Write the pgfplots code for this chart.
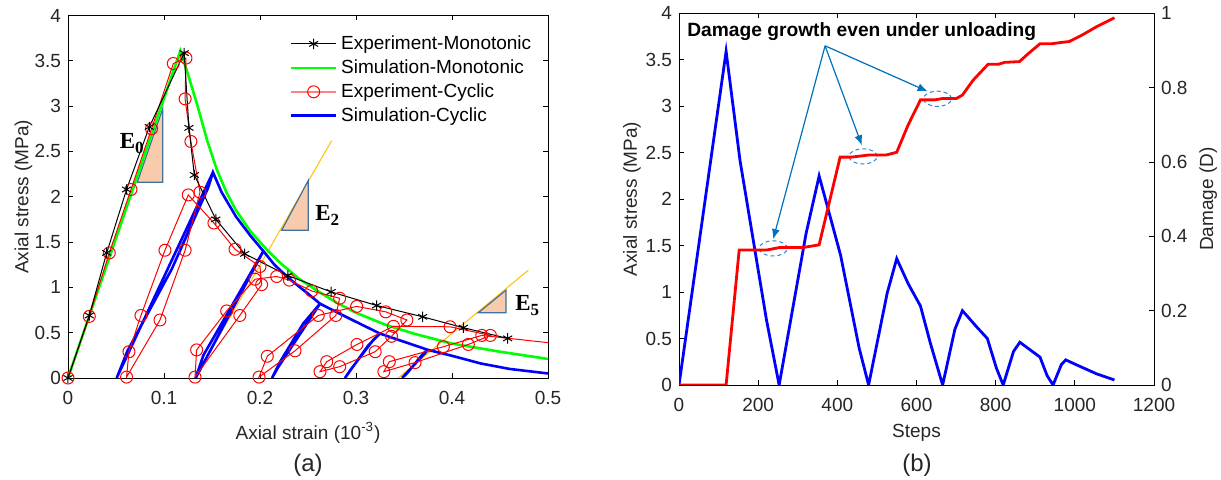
\documentclass[border=0pt]{standalone}
\usepackage{pgfplots}
\pgfplotsset{compat=1.18}
\usepackage{fontspec}
\setmainfont{Liberation Sans}
\newfontfamily\timesfont{Liberation Serif}
\usetikzlibrary{arrows.meta}
\definecolor{tri}{HTML}{F8CBAD}
\definecolor{triedge}{HTML}{41719C}
\definecolor{orng}{HTML}{FFC000}
\definecolor{arr}{HTML}{0072BD}
\definecolor{ell}{HTML}{2E86D0}
\definecolor{txt}{HTML}{262626}
\pgfplotsset{
  mystyle/.style={
    scale only axis,
    tick align=inside,
    major tick length=2.5pt,
    every tick/.style={black, line width=0.4pt},
    tick label style={font=\fontsize{9.5}{11}\selectfont, text=txt},
    label style={font=\fontsize{9.5}{11}\selectfont, text=txt},
    /pgf/number format/assume math mode=true,
    /pgf/number format/1000 sep={},
    axis line style={line width=0.4pt},
    xticklabel style={yshift=-3pt},
  }
}
\begin{document}
\begin{tikzpicture}
\useasboundingbox (0,0) rectangle (610.5pt,240pt);
% ================= (a) =================
\begin{axis}[mystyle,
  at={(34pt,51pt)}, anchor=south west,
  width=240pt, height=181.25pt,
  xmin=0, xmax=0.5, ymin=0, ymax=4,
  xtick={0,0.1,0.2,0.3,0.4,0.5}, xticklabels={0,0.1,0.2,0.3,0.4,0.5},
  ytick={0,0.5,1,1.5,2,2.5,3,3.5,4}, yticklabels={0,0.5,1,1.5,2,2.5,3,3.5,4},
  xtick pos=both, ytick pos=both,
  xlabel={Axial strain (10\textsuperscript{-3})},
  xlabel style={at={(axis description cs:0.5,-0.152)}, anchor=center},
  ylabel={Axial stress (MPa)},
  ylabel style={at={(axis description cs:-0.093,0.5)}, anchor=center},
  legend image code/.code={\draw[mark repeat=2,mark phase=2,#1] plot coordinates {(0cm,0cm) (0.39cm,0cm) (0.78cm,0cm)};},
  legend style={draw=none, fill=none, at={(axis description cs:0.462,0.957)}, anchor=north west,
    font=\fontsize{9.5}{11}\selectfont, row sep=-0.4pt, inner sep=0pt},
  legend cell align=left,
]
\addlegendimage{black, line width=0.5pt, mark=asterisk, mark size=2.6pt}
\addlegendentry{Experiment-Monotonic}
\addlegendimage{green, line width=1.3pt}
\addlegendentry{Simulation-Monotonic}
\addlegendimage{red!50, line width=0.8pt, mark=o, mark size=3pt, mark options={red, line width=0.5pt}}
\addlegendentry{Experiment-Cyclic}
\addlegendimage{blue, line width=1.3pt}
\addlegendentry{Simulation-Cyclic}

% slope guide lines and triangles
\draw[orng, line width=0.5pt] (axis cs:0.1323,0) -- (axis cs:0.2747,2.62);
\draw[orng, line width=0.5pt] (axis cs:0.344,0) -- (axis cs:0.4795,1.19);
\filldraw[fill=tri, draw=triedge, line width=0.6pt] (axis cs:0.0722,2.16) -- (axis cs:0.0986,2.16) -- (axis cs:0.0986,2.97) -- cycle;
\filldraw[fill=tri, draw=triedge, line width=0.6pt] (axis cs:0.2226,1.63) -- (axis cs:0.2503,1.63) -- (axis cs:0.2503,2.18) -- cycle;
\filldraw[fill=tri, draw=triedge, line width=0.6pt] (axis cs:0.4274,0.72) -- (axis cs:0.4563,0.72) -- (axis cs:0.4563,0.97) -- cycle;
\node[anchor=base west, inner sep=0pt] at (axis cs:0.0535,2.53) {\fontsize{11.5}{12}\timesfont\bfseries E\raisebox{-0.5ex}{\fontsize{8.5}{9}\selectfont 0}};
\node[anchor=base west, inner sep=0pt] at (axis cs:0.2573,1.74) {\fontsize{11.5}{12}\timesfont\bfseries E\raisebox{-0.5ex}{\fontsize{8.5}{9}\selectfont 2}};
\node[anchor=base west, inner sep=0pt] at (axis cs:0.4656,0.749) {\fontsize{11.5}{12}\timesfont\bfseries E\raisebox{-0.5ex}{\fontsize{8.5}{9}\selectfont 5}};

% Simulation-Monotonic
\addplot[green, line width=1.3pt, forget plot] coordinates {
(0,0) (0.117,3.61) (0.125,3.35) (0.135,3.0) (0.145,2.62) (0.155,2.30) (0.165,2.05)
(0.175,1.85) (0.19,1.62) (0.205,1.44) (0.22,1.28) (0.24,1.10) (0.26,0.96) (0.28,0.83)
(0.30,0.72) (0.33,0.59) (0.36,0.49) (0.40,0.38) (0.45,0.29) (0.50,0.21)};

% Simulation-Cyclic
\addplot[blue, line width=1.3pt, forget plot] coordinates {
(0.151,2.27) (0.0507,0.0) (0.062,0.30) (0.108,1.20) (0.146,2.10) (0.151,2.27)
(0.160,2.05) (0.175,1.78) (0.19,1.57) (0.2035,1.40)
(0.133,0.0) (0.141,0.25) (0.198,1.30) (0.2035,1.40)
(0.215,1.25) (0.23,1.10) (0.25,0.93) (0.2625,0.82)
(0.245,0.60) (0.221,0.18) (0.2125,0.0) (0.219,0.12) (0.252,0.65) (0.2625,0.82)
(0.283,0.71) (0.30,0.62) (0.325,0.49)
(0.3128,0.36) (0.2885,0.0) (0.295,0.10) (0.318,0.42) (0.325,0.49)
(0.35,0.40) (0.375,0.31)
(0.348,0.0) (0.353,0.05) (0.37,0.27) (0.375,0.31)
(0.40,0.245) (0.43,0.16) (0.46,0.10) (0.50,0.05)};

% Experiment-Cyclic
\addplot[red, line width=0.5pt, mark=o, mark size=3pt, forget plot] coordinates {
(0,0) (0.0222,0.68) (0.043,1.38) (0.0656,2.08) (0.087,2.75) (0.1097,3.47) (0.1229,3.53)
(0.122,3.08) (0.128,2.61) (0.1375,2.05) (0.122,1.41) (0.0958,0.64) (0.061,0.01)
(0.0635,0.29) (0.076,0.69) (0.101,1.41) (0.1253,2.02) (0.152,1.71) (0.174,1.42) (0.2,1.23)
(0.2017,1.03) (0.179,0.69) (0.1323,0.01) (0.134,0.31) (0.1653,0.74) (0.1948,1.09)
(0.2174,1.12) (0.2306,1.08) (0.2538,0.96) (0.283,0.88)
(0.279,0.69) (0.2365,0.30) (0.199,0.01) (0.2076,0.24) (0.2607,0.69) (0.3007,0.79)
(0.331,0.73) (0.353,0.64)
(0.337,0.46) (0.32,0.29) (0.283,0.125) (0.2625,0.07) (0.2695,0.18) (0.301,0.37) (0.339,0.57)
(0.398,0.565) (0.44,0.47)
(0.417,0.37) (0.3615,0.17) (0.329,0.07) (0.3347,0.18) (0.391,0.345) (0.431,0.47)};
\addplot[red, line width=0.5pt, forget plot] coordinates {(0.431,0.47) (0.5,0.39)};

% Experiment-Monotonic
\addplot[black, line width=0.5pt, mark=asterisk, mark size=2.6pt, forget plot] coordinates {
(0,0) (0.0222,0.69) (0.0403,1.38) (0.061,2.08) (0.0847,2.77) (0.121,3.585) (0.126,2.76)
(0.1316,2.24) (0.154,1.75) (0.184,1.37) (0.229,1.13) (0.274,0.95) (0.3215,0.80)
(0.3695,0.675) (0.4118,0.555) (0.458,0.437)};
\end{axis}
\node[font=\fontsize{12}{13}\selectfont, text=txt] at (154pt,7.5pt) {(a)};

% ================= (b) =================
\begin{axis}[mystyle,
  at={(339.5pt,47.5pt)}, anchor=south west,
  width=237.5pt, height=185.85pt,
  xmin=0, xmax=1200, ymin=0, ymax=4,
  xtick={0,200,400,600,800,1000,1200},
  ytick={0,0.5,1,1.5,2,2.5,3,3.5,4}, yticklabels={0,0.5,1,1.5,2,2.5,3,3.5,4},
  xtick pos=both, ytick pos=left,
  xlabel={Steps},
  xlabel style={at={(axis description cs:0.5,-0.13)}, anchor=center},
  ylabel={Axial stress (MPa)},
  ylabel style={at={(axis description cs:-0.099,0.5)}, anchor=center},
]
\addplot[blue, line width=1.4pt] coordinates {
(0,0) (119,3.59) (154,2.42) (221,0.70) (253,0.0) (321,1.63) (354,2.25) (408,1.40)
(455,0.40) (479,0.0) (526,0.99) (550,1.36) (579,1.09) (610,0.85) (635,0.45) (666,0.0)
(697,0.60) (716,0.80) (751,0.63) (779,0.50) (802,0.18) (819,0.0) (845,0.36) (861,0.46)
(912,0.30) (930,0.10) (945,0.0) (966,0.22) (977,0.27) (1013,0.20) (1055,0.12) (1100,0.054)};
\node[anchor=west, inner sep=0pt, font=\fontsize{9.6}{11}\selectfont\bfseries] at (axis cs:20,3.80) {Damage growth even under unloading};
\draw[arr, line width=0.6pt, -{Latex[length=5pt,width=4pt]}] (axis cs:369,3.65) -- (axis cs:238,1.57);
\draw[arr, line width=0.6pt, -{Latex[length=5pt,width=4pt]}] (axis cs:369,3.65) -- (axis cs:462,2.58);
\draw[arr, line width=0.6pt, -{Latex[length=5pt,width=4pt]}] (axis cs:369,3.65) -- (axis cs:628,3.16);
\draw[ell, line width=0.5pt, dash pattern=on 2pt off 1.5pt] (axis cs:238,1.47) ellipse [x radius=7pt, y radius=3.8pt];
\draw[ell, line width=0.5pt, dash pattern=on 2pt off 1.5pt] (axis cs:465,2.46) ellipse [x radius=7pt, y radius=3.8pt];
\draw[ell, line width=0.5pt, dash pattern=on 2pt off 1.5pt] (axis cs:653,3.08) ellipse [x radius=7pt, y radius=3.8pt];
\end{axis}
\begin{axis}[mystyle,
  at={(339.5pt,47.5pt)}, anchor=south west,
  width=237.5pt, height=185.85pt,
  xmin=0, xmax=1200, ymin=0, ymax=1,
  axis x line=none, axis y line*=right,
  ytick={0,0.2,0.4,0.6,0.8,1}, yticklabels={0,0.2,0.4,0.6,0.8,1},
  ytick pos=right,
  ylabel={Damage (D)},
  ylabel style={at={(axis description cs:1.114,0.5)}, anchor=center},
]
\addplot[red, line width=1.4pt] coordinates {
(0,0) (119,0) (152,0.363) (221,0.363) (255,0.370) (314,0.370) (354,0.377) (407,0.613)
(435,0.613) (482,0.619) (524,0.619) (550,0.626) (579,0.70) (610,0.767) (646,0.767)
(667,0.771) (701,0.771) (716,0.780) (743,0.82) (781,0.863) (807,0.863) (823,0.868)
(860,0.870) (883,0.892) (912,0.918) (941,0.918) (969,0.922) (986,0.924) (1021,0.943)
(1055,0.964) (1100,0.988)};
\end{axis}
\node[font=\fontsize{12}{13}\selectfont, text=txt] at (458.5pt,7.5pt) {(b)};
\end{tikzpicture}
\end{document}
